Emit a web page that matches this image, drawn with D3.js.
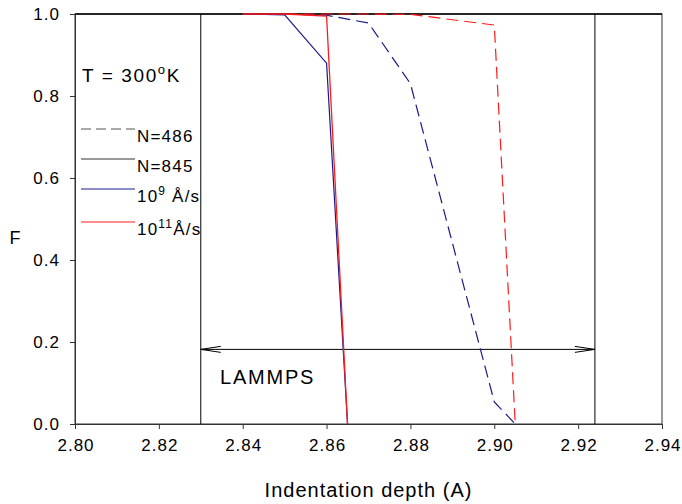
<!DOCTYPE html>
<html><head><meta charset="utf-8">
<script src="https://cdn.jsdelivr.net/npm/d3@7"></script>
<style>body{margin:0;background:#fff}svg{display:block}text{font-family:"Liberation Sans",Arial,sans-serif}</style>
</head><body><div id="c"></div>
<script>
// Data
const xTicks = [2.80, 2.82, 2.84, 2.86, 2.88, 2.90, 2.92, 2.94];
const yTicks = [0.0, 0.2, 0.4, 0.6, 0.8, 1.0];
const n845_v9 = [[2.84, 1.0], [2.85, 0.998], [2.86, 0.88], [2.865, 0.0]];
const n845_v11 = [[2.84, 1.0], [2.85, 1.0], [2.86, 0.995], [2.865, 0.0]];
const n486_v9 = [[2.85, 1.0], [2.86, 0.997], [2.87, 0.978], [2.88, 0.83], [2.90, 0.054], [2.905, 0.0]];
const n486_v11 = [[2.85, 1.0], [2.86, 1.0], [2.87, 1.0], [2.88, 0.999], [2.90, 0.973], [2.905, 0.0]];
const lammpsRange = [2.83, 2.924];
const arrowF = 0.182;

const W = 682, H = 504;
const m = {l: 75, r: 682 - 662, t: 14, b: 504 - 424};
const svg = d3.select("#c").append("svg").attr("width", W).attr("height", H);
const x = d3.scaleLinear().domain([2.80, 2.94]).range([m.l, W - m.r]);
const y = d3.scaleLinear().domain([0, 1]).range([H - m.b, m.t]);

// frame
svg.append("rect").attr("x", x(2.80)).attr("y", y(1)).attr("width", x(2.94) - x(2.80)).attr("height", y(0) - y(1))
  .attr("fill", "none").attr("stroke", "#333").attr("stroke-width", 1);
svg.append("line").attr("x1", x(2.80)).attr("x2", x(2.94)).attr("y1", y(1)).attr("y2", y(1)).attr("stroke", "#000").attr("stroke-width", 1.3);

const xa = svg.append("g").attr("transform", `translate(0,${y(0)})`)
  .call(d3.axisBottom(x).tickValues(xTicks).tickFormat(d3.format(".2f")).tickSize(5).tickSizeOuter(0));
const ya = svg.append("g").attr("transform", `translate(${x(2.80)},0)`)
  .call(d3.axisLeft(y).tickValues(yTicks).tickFormat(d3.format(".1f")).tickSize(5).tickSizeOuter(0));
[xa, ya].forEach(a => { a.select(".domain").attr("stroke", "#333"); a.selectAll(".tick line").attr("stroke", "#333"); a.selectAll("text").attr("font-size", 17).attr("letter-spacing", 1).attr("fill", "#000"); });
xa.selectAll("text").attr("dy", null).attr("y", 27).attr("dx", 0.5);
ya.selectAll("text").attr("x", -15).attr("dy", "0.35em");

// LAMMPS vertical lines
lammpsRange.forEach(v => svg.append("line").attr("x1", x(v)).attr("x2", x(v)).attr("y1", y(0)).attr("y2", y(1)).attr("stroke", "#000").attr("stroke-width", 1));

// arrow
const ay = y(arrowF), x0 = x(lammpsRange[0]), x1 = x(lammpsRange[1]);
svg.append("path").attr("d", `M${x0},${ay}H${x1}M${x0 + 20},${ay - 3}L${x0},${ay}L${x0 + 20},${ay + 3}M${x1 - 20},${ay - 3}L${x1},${ay}L${x1 - 20},${ay + 3}`)
  .attr("fill", "none").attr("stroke", "#000").attr("stroke-width", 1);
svg.append("text").attr("x", 220).attr("y", 384).attr("font-size", 20).attr("letter-spacing", 1.8).text("LAMMPS");

const line = d3.line().x(d => x(d[0])).y(d => y(d[1]));
const NAVY = "#1a1a8c", RED = "#ff1a1a";
svg.append("path").datum(n486_v9).attr("d", line).attr("fill", "none").attr("stroke", NAVY).attr("stroke-width", 1.2).attr("stroke-dasharray", "12,6");
svg.append("path").datum(n486_v11).attr("d", line).attr("fill", "none").attr("stroke", RED).attr("stroke-width", 1.2).attr("stroke-dasharray", "12,6");
svg.append("path").datum(n845_v9).attr("d", line).attr("fill", "none").attr("stroke", NAVY).attr("stroke-width", 1.2);
svg.append("path").datum(n845_v11).attr("d", line).attr("fill", "none").attr("stroke", RED).attr("stroke-width", 1.3);

// legend
const t = svg.append("text").attr("x", 82).attr("y", 82).attr("font-size", 19).attr("letter-spacing", 1.6);
t.append("tspan").text("T = 300");
t.append("tspan").attr("dy", -8).attr("font-size", 13).text("o");
t.append("tspan").attr("dy", 8).text("K");

const leg = [
  {y: 129, stroke: "#555", dash: "10,5", parts: [["N=486"]]},
  {y: 159, stroke: "#333", dash: null, parts: [["N=845"]]},
  {y: 189, stroke: NAVY, dash: null, parts: [["10"], ["9", "sup"], [" Å/s"]]},
  {y: 222, stroke: RED, dash: null, parts: [["10"], ["11", "sup"], ["Å/s"]]}
];
leg.forEach(e => {
  svg.append("line").attr("x1", 81).attr("x2", 135).attr("y1", e.y).attr("y2", e.y).attr("stroke", e.stroke).attr("stroke-width", 1).attr("stroke-dasharray", e.dash);
  const tx = svg.append("text").attr("x", 137).attr("y", e.y + 6).attr("font-size", 17).attr("letter-spacing", 1.2);
  e.parts.forEach(p => {
    if (p[1] === "sup") tx.append("tspan").attr("dy", -7).attr("font-size", 12).text(p[0]);
    else tx.append("tspan").attr("dy", tx.selectAll("tspan").size() > 0 ? 7 : 0).text(p[0]);
  });
});

svg.append("text").attr("x", 15).attr("y", 244).attr("text-anchor", "middle").attr("font-size", 18).text("F");
svg.append("text").attr("x", (x(2.80) + x(2.94)) / 2).attr("y", 497).attr("text-anchor", "middle").attr("font-size", 20).attr("letter-spacing", 1).text("Indentation depth (A)");
</script></body></html>
